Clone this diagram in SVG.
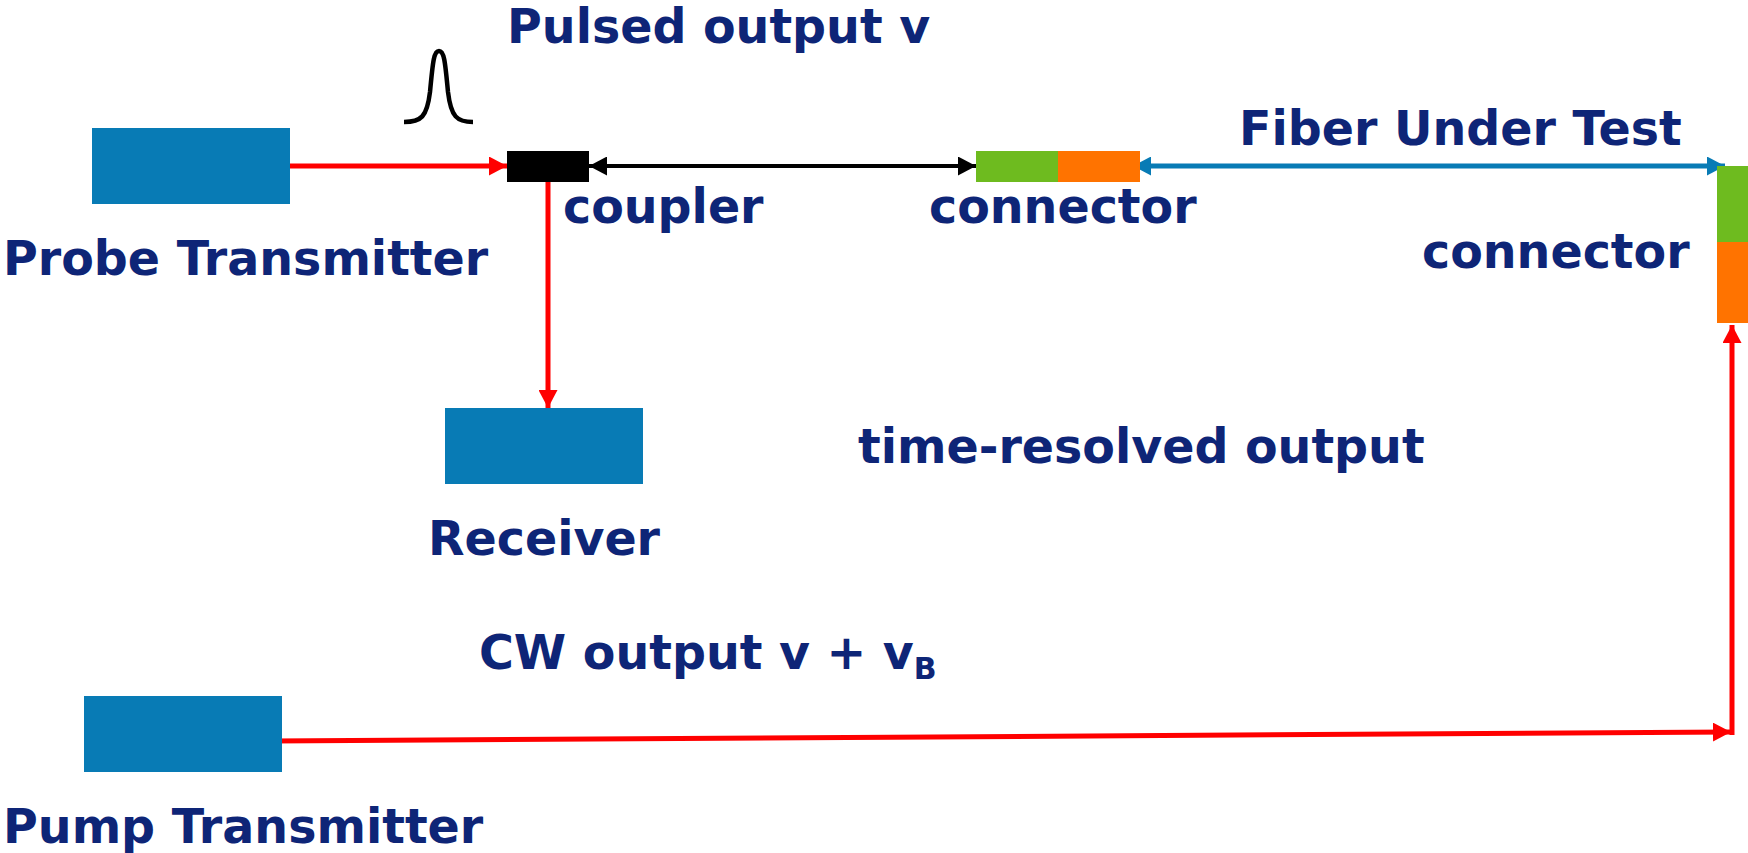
<svg xmlns="http://www.w3.org/2000/svg" width="1748" height="853" viewBox="0 0 1748 853">
<style>
text{font-family:"DejaVu Sans","Verdana",sans-serif;font-weight:bold;font-size:47.5px;fill:#0E2577}
.box{fill:#087BB5}
.red{stroke:#FF0000;stroke-width:5;fill:none}
.blk{stroke:#000;stroke-width:4;fill:none}
.blu{stroke:#087BB5;stroke-width:5;fill:none}
</style>
<defs>
<marker id="ar" viewBox="0 0 18 19" refX="18" refY="9.5" markerWidth="18" markerHeight="19" markerUnits="userSpaceOnUse" orient="auto-start-reverse"><path d="M0,0 L18,9.5 L0,19 z" fill="#FF0000"/></marker>
<marker id="ak" viewBox="0 0 18 19" refX="18" refY="9.5" markerWidth="18" markerHeight="19" markerUnits="userSpaceOnUse" orient="auto-start-reverse"><path d="M0,0 L18,9.5 L0,19 z" fill="#000"/></marker>
<marker id="ab" viewBox="0 0 18 19" refX="18" refY="9.5" markerWidth="18" markerHeight="19" markerUnits="userSpaceOnUse" orient="auto-start-reverse"><path d="M0,0 L18,9.5 L0,19 z" fill="#087BB5"/></marker>
</defs>
<g id="connectors">
<line class="red" x1="290" y1="166" x2="507" y2="166" marker-end="url(#ar)"/>
<line class="red" x1="548" y1="166" x2="548" y2="408" marker-end="url(#ar)"/>
<line class="blk" x1="589" y1="166" x2="976" y2="166" marker-start="url(#ak)" marker-end="url(#ak)"/>
<line class="blu" x1="1133" y1="166" x2="1725" y2="166" marker-start="url(#ab)" marker-end="url(#ab)"/>
<line class="red" x1="273" y1="741" x2="1731" y2="732" marker-end="url(#ar)"/>
<line class="red" x1="1732" y1="735" x2="1732" y2="325" marker-end="url(#ar)"/>
</g>
<g id="probe-transmitter">
<rect class="box" x="92" y="128" width="198" height="76"/>
<text x="3" y="275">Probe Transmitter</text>
</g>
<g id="pulse">
<path d="M404,122 C421,122 427,117 430,92 C433,60 434,51 439,51 C444,51 445,60 448,92 C451,117 457,122 473,122" stroke="#000" stroke-width="4.5" fill="none"/>
<text x="507" y="43">Pulsed output v</text>
</g>
<g id="coupler">
<rect x="507" y="151" width="82" height="31" fill="#000"/>
<text x="563" y="223">coupler</text>
</g>
<g id="connector-1">
<rect x="976" y="151" width="82" height="31" fill="#6EBB1F"/>
<rect x="1058" y="151" width="82" height="31" fill="#FF7300"/>
<text x="929" y="223">connector</text>
</g>
<g id="fiber-label">
<text x="1239" y="145">Fiber Under Test</text>
</g>
<g id="connector-2">
<rect x="1717" y="166" width="31" height="76" fill="#6EBB1F"/>
<rect x="1717" y="242" width="31" height="81" fill="#FF7300"/>
<text x="1422" y="268">connector</text>
</g>
<g id="receiver">
<rect class="box" x="445" y="408" width="198" height="76"/>
<text x="428" y="555">Receiver</text>
</g>
<g id="time-label">
<text x="858" y="463">time-resolved output</text>
</g>
<g id="pump-transmitter">
<rect class="box" x="84" y="696" width="198" height="76"/>
<text x="3" y="843">Pump Transmitter</text>
<text x="479" y="669">CW output v + v<tspan font-size="30" dy="10">B</tspan></text>
</g>
</svg>
